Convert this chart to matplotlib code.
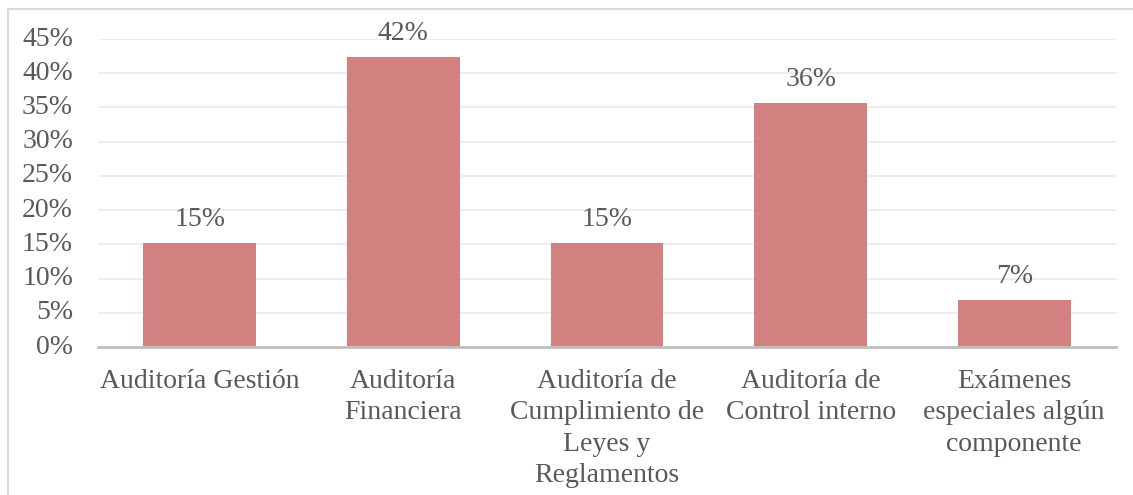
import matplotlib
matplotlib.use("Agg")
import matplotlib.pyplot as plt
from matplotlib.patches import Rectangle
from matplotlib.ticker import FuncFormatter

categories = ["Auditoría Gestión", "Auditoría\nFinanciera", "Auditoría de\nCumplimiento de\nLeyes y\nReglamentos",
              "Auditoría de\nControl interno", "Exámenes\nespeciales algún\ncomponente"]
values = [15.2, 42.3, 15.2, 35.6, 6.8]
labels = ["15%", "42%", "15%", "36%", "7%"]
yticks = [0, 5, 10, 15, 20, 25, 30, 35, 40, 45]

plt.rcParams['font.family'] = ['Liberation Serif', 'DejaVu Serif']
text_color = "#595959"
bar_color = "#d38080"
fs = 20

fig = plt.figure(figsize=(11.33, 4.95), dpi=100)
ax = fig.add_axes([98/1133, 1 - 347/495, (1116-98)/1133, (347-39)/495])

x = list(range(len(categories)))
bars = ax.bar(x, values, width=0.555, color=bar_color, zorder=3)
for b, lab in zip(bars, labels):
    ax.annotate(lab, (b.get_x() + b.get_width()/2, b.get_height()), xytext=(0, 8),
                textcoords="offset points", ha="center", va="bottom",
                fontsize=fs, color=text_color)

ax.set_xlim(-0.5, len(categories) - 0.5)
ax.set_ylim(0, 45)
ax.set_yticks(yticks)
ax.yaxis.set_major_formatter(FuncFormatter(lambda v, p: f"{int(v)}%"))
ax.set_xticks(x)
ax.set_xticklabels(categories, linespacing=1.33)
ax.tick_params(axis="y", length=0, pad=18, labelsize=fs, labelcolor=text_color)
ax.tick_params(axis="x", length=0, pad=16, labelsize=fs, labelcolor=text_color)
for lab in ax.get_yticklabels():
    lab.set_verticalalignment("center")

ax.grid(axis="y", color="#ececec", linewidth=1.3, zorder=0)
for s in ["top", "right", "left"]:
    ax.spines[s].set_visible(False)
ax.spines["bottom"].set_color("#bfbfbf")
ax.spines["bottom"].set_linewidth(2)
ax.spines["bottom"].set_zorder(4)

fig.patches.append(Rectangle((8/1133, -0.1), 1.2, 1 - 8.5/495 + 0.1, transform=fig.transFigure,
                             fill=False, edgecolor="#d9d9d9", linewidth=1.5, clip_on=False))

fig.savefig("out.png", dpi=100)
